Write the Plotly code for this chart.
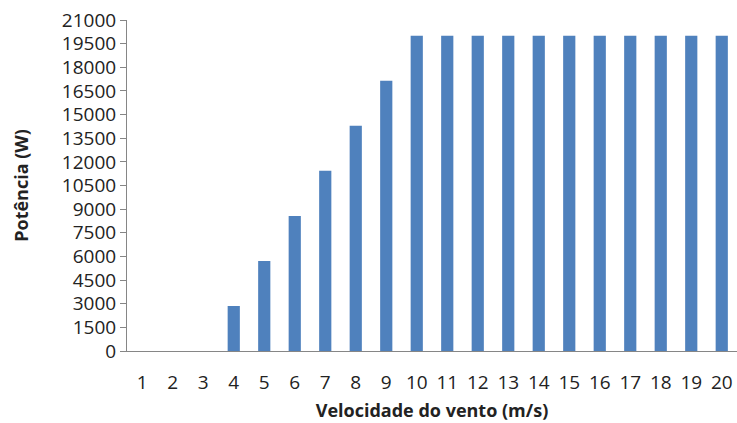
import plotly.graph_objects as go

wind_speed = [str(v) for v in range(1, 21)]
power = [0, 0, 0, 2857, 5714, 8571, 11429, 14286, 17143,
         20000, 20000, 20000, 20000, 20000, 20000, 20000, 20000, 20000, 20000, 20000]
y_ticks = list(range(0, 21001, 1500))

fig = go.Figure(go.Bar(
    x=wind_speed, y=power,
    marker=dict(color="#4F81BD", line=dict(width=0)),
))

font_family = "Open Sans, Liberation Sans, sans-serif"
fig.update_layout(
    width=737, height=423,
    margin=dict(l=127, r=0, t=20, b=72, autoexpand=False),
    plot_bgcolor="white", paper_bgcolor="white",
    bargap=0.6, showlegend=False,
    font=dict(family=font_family, size=19, color="#222222"),
)
fig.update_xaxes(
    type="category", showline=True, linecolor="#868686", linewidth=1,
    ticks="outside", ticklen=14, tickcolor="rgba(0,0,0,0)",
    tickfont=dict(size=19),
    title=dict(text="<b>Velocidade do vento (m/s)</b>", font=dict(size=18), standoff=10),
    showgrid=False,
)
fig.update_yaxes(
    range=[0, 21000], tickvals=y_ticks, ticktext=[str(v) for v in y_ticks],
    showline=True, linecolor="#868686", linewidth=1,
    ticks="outside", ticklen=6, tickcolor="#868686",
    tickfont=dict(size=19), showgrid=False, zeroline=False,
    title=dict(text="<b>Potência (W)</b>", font=dict(size=18), standoff=28),
)
fig.write_html("out.html", config={"displayModeBar": False},
               post_script="document.body.style.margin='0';")
